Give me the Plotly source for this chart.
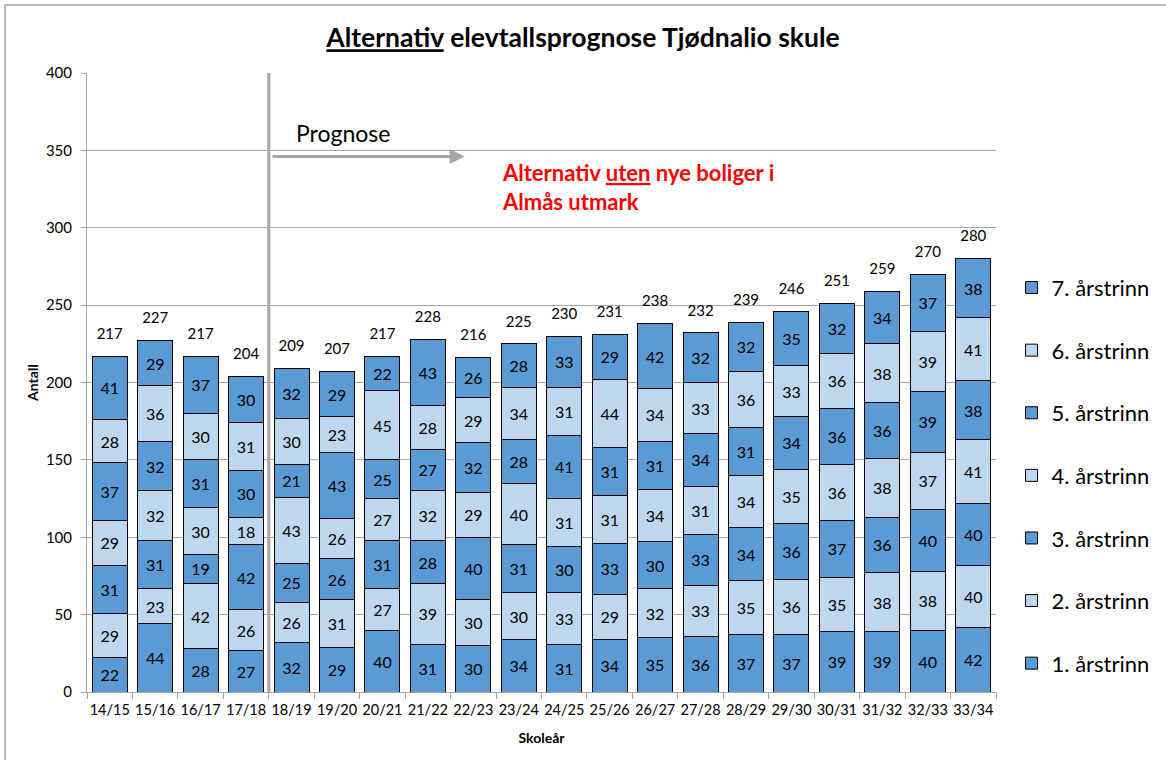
import plotly.graph_objects as go

years = ["14/15", "15/16", "16/17", "17/18", "18/19", "19/20", "20/21", "21/22", "22/23", "23/24",
         "24/25", "25/26", "26/27", "27/28", "28/29", "29/30", "30/31", "31/32", "32/33", "33/34"]

trinn1 = [22, 44, 28, 27, 32, 29, 40, 31, 30, 34, 31, 34, 35, 36, 37, 37, 39, 39, 40, 42]
trinn2 = [29, 23, 42, 26, 26, 31, 27, 39, 30, 30, 33, 29, 32, 33, 35, 36, 35, 38, 38, 40]
trinn3 = [31, 31, 19, 42, 25, 26, 31, 28, 40, 31, 30, 33, 30, 33, 34, 36, 37, 36, 40, 40]
trinn4 = [29, 32, 30, 18, 43, 26, 27, 32, 29, 40, 31, 31, 34, 31, 34, 35, 36, 38, 37, 41]
trinn5 = [37, 32, 31, 30, 21, 43, 25, 27, 32, 28, 41, 31, 31, 34, 31, 34, 36, 36, 39, 38]
trinn6 = [28, 36, 30, 31, 30, 23, 45, 28, 29, 34, 31, 44, 34, 33, 36, 33, 36, 38, 39, 41]
trinn7 = [41, 29, 37, 30, 32, 29, 22, 43, 26, 28, 33, 29, 42, 32, 32, 35, 32, 34, 37, 38]

series = [
    ("1. årstrinn", trinn1),
    ("2. årstrinn", trinn2),
    ("3. årstrinn", trinn3),
    ("4. årstrinn", trinn4),
    ("5. årstrinn", trinn5),
    ("6. årstrinn", trinn6),
    ("7. årstrinn", trinn7),
]

DARK = "#5B9BD5"
LIGHT = "#BDD7EE"
FONT = "Lato, 'Open Sans', sans-serif"

fig = go.Figure()
for i, (name, vals) in enumerate(series):
    fig.add_trace(go.Bar(
        x=years, y=vals, name=name,
        marker=dict(color=DARK if i % 2 == 0 else LIGHT, line=dict(color="black", width=1)),
        text=[str(v) for v in vals], textposition="inside", insidetextanchor="middle",
        textangle=0, constraintext="none",
        textfont=dict(size=16, color="black", family=FONT),
        legendgroup=name, legendrank=len(series) - i, hoverinfo="skip",
    ))

totals = [sum(v) for v in zip(*[s[1] for s in series])]
fig.add_trace(go.Scatter(
    x=years, y=totals, mode="markers+text", text=[str(t) for t in totals],
    marker=dict(size=20, opacity=0),
    textposition="top center", textfont=dict(size=15, color="black", family=FONT),
    showlegend=False, hoverinfo="skip", cliponaxis=False,
))

fig.update_layout(
    width=1166, height=760,
    barmode="stack", bargap=0.23,
    paper_bgcolor="white", plot_bgcolor="white",
    margin=dict(l=87, r=169, t=73, b=68),
    font=dict(family=FONT, color="black"),
    title=dict(text="<b><u>Alternativ</u> elevtallsprognose Tjødnalio skule</b>",
               x=0.5, xanchor="center", y=0.95, yanchor="middle",
               font=dict(size=26.5, color="black", family=FONT)),
    legend=dict(x=1.016, y=0.687, xanchor="left", yanchor="top",
                traceorder="grouped", tracegroupgap=31,
                font=dict(size=22, family=FONT), bgcolor="rgba(0,0,0,0)"),
    showlegend=True,
)

fig.update_xaxes(
    type="category", range=[-0.5, len(years) - 0.5],
    showgrid=False, showline=True, linecolor="#A6A6A6", linewidth=1,
    ticks="outside", tickson="boundaries", ticklen=6, tickcolor="#A6A6A6", tickangle=0,
    tickfont=dict(size=14.5, family=FONT), automargin=False, ticklabelstandoff=5,
    title=dict(text="<b>Skoleår</b>", font=dict(size=14, family=FONT), standoff=15),
)
fig.update_yaxes(
    range=[0, 400], dtick=50, showgrid=True, gridcolor="#A6A6A6", gridwidth=1,
    showline=True, linecolor="#A6A6A6", linewidth=1, ticks="outside", ticklen=5,
    tickcolor="#A6A6A6", tickfont=dict(size=15, family=FONT), automargin=False,
    ticklabelstandoff=6,
    title=dict(text="<b>Antall</b>", font=dict(size=14, family=FONT), standoff=3),
    zeroline=False,
)

# outer chart border
fig.add_shape(type="rect", xref="paper", yref="paper", x0=-0.0901, x1=1.3, y0=-0.3, y1=1.1099,
              line=dict(color="#A6A6A6", width=1.5), fillcolor="rgba(0,0,0,0)", layer="below")

# separator between history and forecast
fig.add_shape(type="line", xref="x", yref="y", x0=3.5, x1=3.5, y0=0, y1=400,
              line=dict(color="#A6A6A6", width=3))

# forecast arrow
fig.add_annotation(x=7.81, y=346, ax=3.55, ay=346, xref="x", yref="y", axref="x", ayref="y",
                   text="", showarrow=True, arrowhead=2, arrowsize=1, arrowwidth=3,
                   arrowcolor="#A6A6A6")
fig.add_annotation(x=4.05, y=361, xref="x", yref="y", text="Prognose", showarrow=False,
                   xanchor="left", yanchor="middle", font=dict(size=23, color="black", family=FONT))
fig.add_annotation(x=8.58, y=326.5, xref="x", yref="y",
                   text="<b>Alternativ <u>uten</u> nye boliger i<br>Almås utmark</b>",
                   showarrow=False, xanchor="left", yanchor="middle", align="left",
                   font=dict(size=22, color="#FF0000", family=FONT))

fig.write_html("out.html", config={"displayModeBar": False},
               post_script="document.body.style.margin='0px';")
